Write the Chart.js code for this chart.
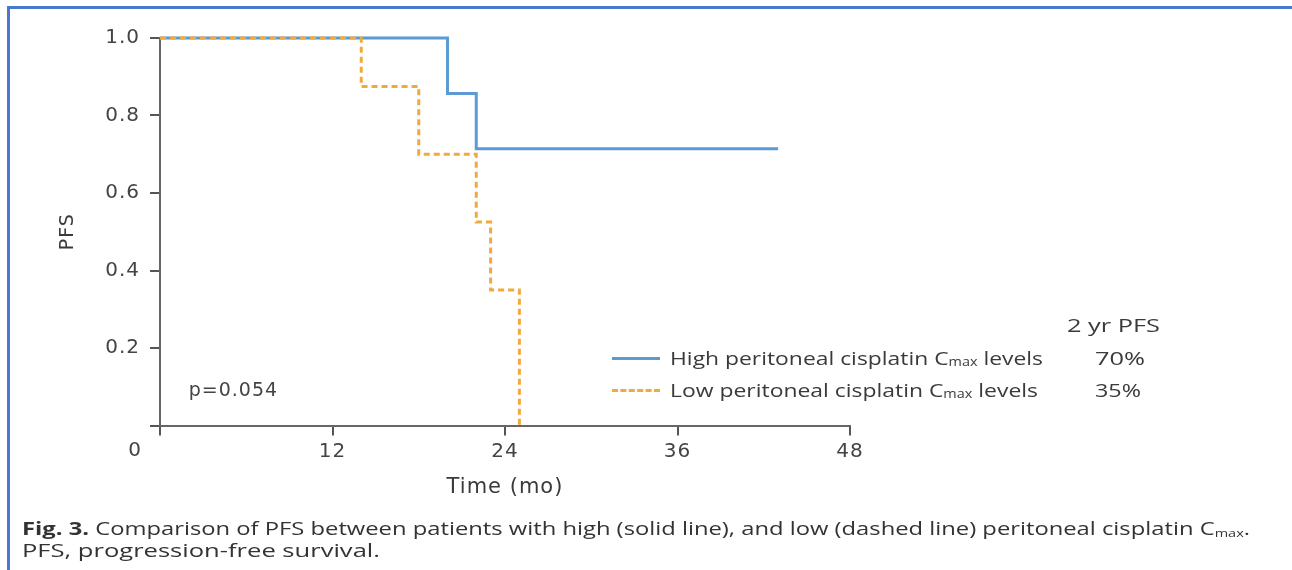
<!DOCTYPE html>
<html>
<head>
<meta charset="utf-8">
<script src="https://cdn.jsdelivr.net/npm/chart.js@4"></script>
<style>
  body { margin: 0; background: #fff; }
  #wrap { position: relative; width: 1292px; height: 570px; overflow: hidden; }
  #frame { position: absolute; left: 7px; top: 6px; width: 1300px; height: 600px;
           border-top: 3px solid #4a78cf; border-left: 3px solid #4a78cf; }
  canvas { position: absolute; left: 0; top: 0; }
  .txt { position: absolute; color: #3a3a3a; font-family: "Open Sans", sans-serif; white-space: nowrap;
         transform-origin: 0 50%; }
  .leg { font-size: 19px; line-height: 26px; }
  .leg sub { font-size: 12px; vertical-align: -1px; }
  .swatch { position: absolute; width: 48px; height: 0; }
  .cap { font-size: 18px; line-height: 23px; color: #333; }
  .cap sub { font-size: 11px; vertical-align: -2px; }
</style>
</head>
<body>
<div id="wrap">
  <div id="frame"></div>
  <canvas id="pfsChart" width="1292" height="570"></canvas>

  <div class="txt leg" data-w="93" style="left:1067px; top:312px;">2 yr PFS</div>
  <div class="swatch" style="left:612px; top:357px; border-top:3px solid #5b9bd5;"></div>
  <div class="txt leg" data-w="373" style="left:670px; top:345px;">High peritoneal cisplatin C<sub>max</sub> levels</div>
  <div class="txt leg" data-w="50" style="left:1095px; top:345px;">70%</div>
  <div class="swatch" style="left:612px; top:389px; border-top:3px dashed #f2a93b;"></div>
  <div class="txt leg" data-w="368" style="left:670px; top:377px;">Low peritoneal cisplatin C<sub>max</sub> levels</div>
  <div class="txt leg" data-w="46" style="left:1095px; top:377px;">35%</div>

  <div class="txt cap" data-w="1228" style="left:22px; top:517px;"><b>Fig. 3.</b> Comparison of PFS between patients with high (solid line), and low (dashed line) peritoneal cisplatin C<sub>max</sub>.</div>
  <div class="txt cap" data-w="358" style="left:22px; top:539px;">PFS, progression-free survival.</div>
</div>

<script>
// data
const highMonths = [0, 20, 22, 43];
const highPfs = [1.0, 0.857, 0.714, 0.714];
const lowMonths = [0, 14, 18, 22, 23, 25];
const lowPfs = [1.0, 0.875, 0.70, 0.525, 0.35, 0];
const xTicks = [0, 12, 24, 36, 48];
const yTicks = [0, 0.2, 0.4, 0.6, 0.8, 1.0];
const pValue = 'p=0.054';

function toPoints(xs, ys) {
    return xs.map((x, i) => ({ x: x, y: ys[i] }));
}

// the figure text is stretched sideways, widen the html labels to match
function fitWidths() {
    document.querySelectorAll('[data-w]').forEach(el => {
        const w = el.getBoundingClientRect().width;
        el.style.transform = 'scaleX(' + (parseFloat(el.dataset.w) / w) + ')';
    });
}

const wideText = {
    id: 'wideText',
    beforeDraw(chart) {
        chart.ctx.letterSpacing = '1px';
    }
};

// "0" at the origin and the p value
const extraText = {
    id: 'extraText',
    afterDraw(chart) {
        const ctx = chart.ctx;
        const xs = chart.scales.x, ys = chart.scales.y;
        ctx.save();
        ctx.fillStyle = '#444';
        ctx.font = '20px "DejaVu Sans", sans-serif';
        ctx.textAlign = 'center';
        ctx.textBaseline = 'middle';
        ctx.fillText('0', xs.getPixelForValue(0) - 25, ys.getPixelForValue(0) + 25);
        ctx.font = '19px "DejaVu Sans", sans-serif';
        ctx.textAlign = 'left';
        ctx.fillText(pValue, xs.getPixelForValue(2), ys.getPixelForValue(0.09));
        ctx.restore();
    }
};

const tickFont = { family: '"DejaVu Sans", sans-serif', size: 20 };

document.addEventListener('DOMContentLoaded', function() {
    fitWidths();
    const ctx = document.getElementById('pfsChart').getContext('2d');
    new Chart(ctx, {
        type: 'line',
        data: {
            datasets: [{
                label: 'Low peritoneal cisplatin Cmax levels',
                data: toPoints(lowMonths, lowPfs),
                stepped: true,
                borderColor: '#f2a93b',
                borderWidth: 3,
                borderDash: [6, 4],
                pointRadius: 0,
                fill: false,
                clip: false
            }, {
                label: 'High peritoneal cisplatin Cmax levels',
                data: toPoints(highMonths, highPfs),
                stepped: true,
                borderColor: '#5b9bd5',
                borderWidth: 3,
                pointRadius: 0,
                fill: false,
                clip: false
            }]
        },
        options: {
            responsive: false,
            animation: false,
            layout: { padding: { left: 0, top: 38, right: 442, bottom: 64.5 } },
            plugins: { legend: { display: false }, tooltip: { enabled: false } },
            scales: {
                x: {
                    type: 'linear',
                    min: 0,
                    max: 48,
                    afterBuildTicks: s => { s.ticks = xTicks.map(v => ({ value: v })); },
                    afterFit: s => { s.height = 80; },
                    ticks: {
                        callback: v => v === 0 ? '' : v,
                        font: tickFont,
                        color: '#444',
                        padding: 4,
                        maxRotation: 0
                    },
                    grid: { drawOnChartArea: false, drawTicks: true, tickLength: 10, color: '#555', lineWidth: 2 },
                    border: { display: true, color: '#666', width: 2 },
                    title: {
                        display: true,
                        text: 'Time (mo)',
                        color: '#3a3a3a',
                        font: { family: '"DejaVu Sans", sans-serif', size: 21 },
                        padding: { top: 0, bottom: 5 }
                    }
                },
                y: {
                    min: 0,
                    max: 1,
                    afterBuildTicks: s => { s.ticks = yTicks.map(v => ({ value: v })); },
                    afterFit: s => { s.width = 160; },
                    ticks: {
                        callback: v => v === 0 ? '' : v.toFixed(1),
                        font: tickFont,
                        color: '#444',
                        padding: 10
                    },
                    grid: { drawOnChartArea: false, drawTicks: true, tickLength: 10, color: '#555', lineWidth: 2 },
                    border: { display: true, color: '#666', width: 2 },
                    title: {
                        display: true,
                        text: 'PFS',
                        color: '#3a3a3a',
                        font: { family: '"DejaVu Sans", sans-serif', size: 19 },
                        padding: { top: 57, bottom: 0 }
                    }
                }
            }
        },
        plugins: [wideText, extraText]
    });
});
</script>
</body>
</html>
